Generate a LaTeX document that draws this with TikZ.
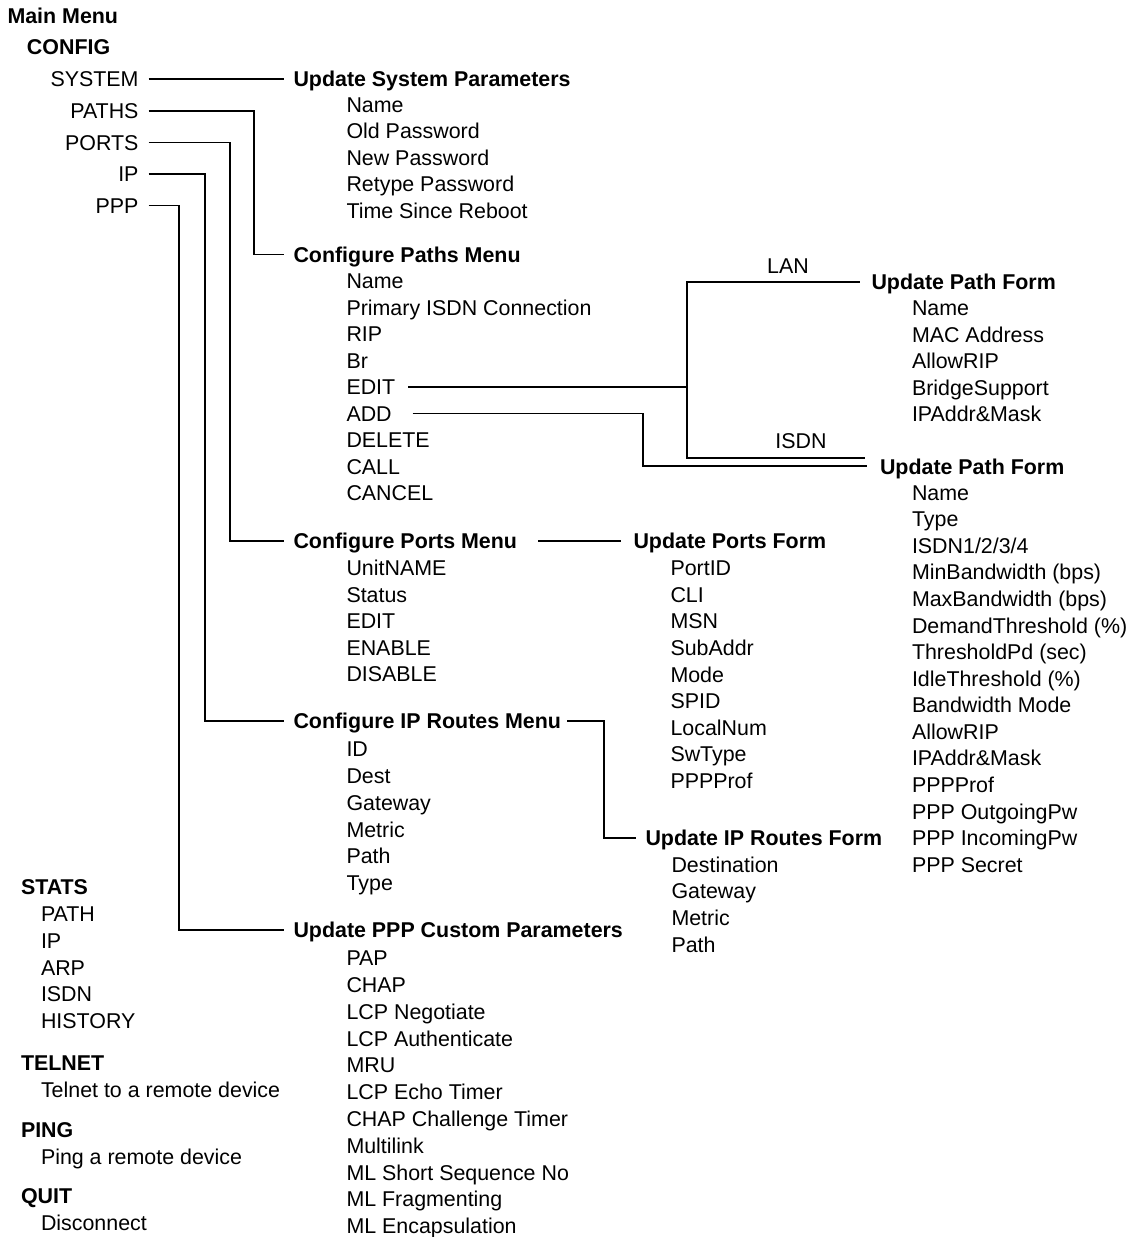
\documentclass[tikz,border=0pt]{standalone}
\usepackage{fontspec}
\setmainfont{Liberation Sans}
\begin{document}
\begin{tikzpicture}[x=1pt,y=-1pt,
  txt/.style={inner sep=0pt, outer sep=0pt, text height=15.3pt, text depth=0pt,
    font=\fontsize{21.4}{25}\selectfont, anchor=west},
  hd/.style={txt, font=\fontsize{21.4}{25}\selectfont\bfseries},
  itemr/.style={txt, anchor=east},
  lbl/.style={txt, anchor=center},
  wire/.style={line width=1.3pt, line join=miter}]
\useasboundingbox (0,0) rectangle (1135,1237);

% left column
\node[hd] (mainmenu) at (7.5,16) {Main Menu};
\node[hd] (config) at (27,47) {CONFIG};
\node[itemr] (system) at (138.5,79) {SYSTEM};
\node[itemr] (paths) at (138.5,111) {PATHS};
\node[itemr] (ports) at (138.5,142.5) {PORTS};
\node[itemr] (ip) at (138.5,174) {IP};
\node[itemr] (ppp) at (138.5,205.5) {PPP};

\node[hd] (stats) at (21,887) {STATS};
\foreach \t [count=\i from 0] in {PATH,IP,ARP,ISDN,HISTORY}
  \node[txt] (stats-\i) at (41,914+\i*26.7) {\t};
\node[hd] (telnet) at (21,1063) {TELNET};
\node[txt] (telnet-0) at (41,1089.5) {Telnet to a remote device};
\node[hd] (ping) at (21,1130) {PING};
\node[txt] (ping-0) at (41,1157) {Ping a remote device};
\node[hd] (quit) at (21,1196) {QUIT};
\node[txt] (quit-0) at (41,1222.5) {Disconnect};

% Update System Parameters
\node[hd] (usp) at (293.5,79) {Update System Parameters};
\foreach \t [count=\i from 0] in {Name,Old Password,New Password,Retype Password,Time Since Reboot}
  \node[txt] (usp-\i) at (346.5,104.5+\i*26.5) {\t};

% Configure Paths Menu
\node[hd] (cpm) at (293.5,254.5) {Configure Paths Menu};
\foreach \t [count=\i from 0] in {Name,Primary ISDN Connection,RIP,Br,EDIT,ADD,DELETE,CALL,CANCEL}
  \node[txt] (cpm-\i) at (346.5,281+\i*26.5) {\t};

% Update Path Form (LAN)
\node[hd] (upf1) at (871.5,282) {Update Path Form};
\foreach \t [count=\i from 0] in {Name,MAC Address,AllowRIP,BridgeSupport,IPAddr\&Mask}
  \node[txt] (upf1-\i) at (912,308+\i*26.5) {\t};

% Update Path Form (ISDN)
\node[hd] (upf2) at (880,467) {Update Path Form};
\foreach \t [count=\i from 0] in {Name,Type,ISDN1/2/3/4,{MinBandwidth (bps)},{MaxBandwidth (bps)},
    {DemandThreshold (\%)},{ThresholdPd (sec)},{IdleThreshold (\%)},Bandwidth Mode,AllowRIP,
    IPAddr\&Mask,PPPProf,PPP OutgoingPw,PPP IncomingPw,PPP Secret}
  \node[txt] (upf2-\i) at (912,492.5+\i*26.57) {\t};

\node[lbl] (lan) at (788,266) {LAN};
\node[lbl] (isdn) at (801,441) {ISDN};

% Configure Ports Menu
\node[hd] (cportm) at (293.5,541) {Configure Ports Menu};
\foreach \t [count=\i from 0] in {UnitNAME,Status,EDIT,ENABLE,DISABLE}
  \node[txt] (cportm-\i) at (346.5,568+\i*26.5) {\t};

% Update Ports Form
\node[hd] (uportf) at (633.5,541) {Update Ports Form};
\foreach \t [count=\i from 0] in {PortID,CLI,MSN,SubAddr,Mode,SPID,LocalNum,SwType,PPPProf}
  \node[txt] (uportf-\i) at (670.5,568+\i*26.6) {\t};

% Configure IP Routes Menu
\node[hd] (cipm) at (293.5,721) {Configure IP Routes Menu};
\foreach \t [count=\i from 0] in {ID,Dest,Gateway,Metric,Path,Type}
  \node[txt] (cipm-\i) at (346.5,749+\i*26.8) {\t};

% Update IP Routes Form
\node[hd] (uipf) at (645.5,838) {Update IP Routes Form};
\foreach \t [count=\i from 0] in {Destination,Gateway,Metric,Path}
  \node[txt] (uipf-\i) at (671.5,864.5+\i*26.67) {\t};

% Update PPP Custom Parameters
\node[hd] (uppp) at (293.5,930) {Update PPP Custom Parameters};
\foreach \t [count=\i from 0] in {PAP,CHAP,LCP Negotiate,LCP Authenticate,MRU,LCP Echo Timer,
    CHAP Challenge Timer,Multilink,ML Short Sequence No,ML Fragmenting,ML Encapsulation}
  \node[txt] (uppp-\i) at (346.5,958+\i*26.8) {\t};

% junction coordinates
\coordinate (edj) at (687,0);
\coordinate (addj) at (643,0);

% connectors
\draw[wire] ([xshift=10pt]system.east) -- ([xshift=-10pt]system.east -| usp.west);
\draw[wire] ([xshift=10pt]paths.east) -| ([xshift=-39.5pt]cpm.west) -- ([xshift=-10pt]cpm.west);
\draw[wire] ([xshift=10pt]ports.east) -| ([xshift=-63.5pt]cportm.west) -- ([xshift=-10pt]cportm.west);
\draw[wire] ([xshift=10pt]ip.east) -| ([xshift=-88.5pt]cipm.west) -- ([xshift=-10pt]cipm.west);
\draw[wire] ([xshift=10pt]ppp.east) -| ([xshift=-114.5pt]uppp.west) -- ([xshift=-10pt]uppp.west);

\draw[wire] ([xshift=13pt]cpm-4.east) -- (cpm-4.east -| edj);
\draw[wire] ([xshift=-12pt]upf1.west) -| ([yshift=9pt]upf2.west -| edj) -- ([xshift=-15pt,yshift=9pt]upf2.west);
\draw[wire] ([xshift=21pt]cpm-5.east) -| ([yshift=1pt]upf2.west -| addj) -- ([xshift=-13pt,yshift=1pt]upf2.west);

\draw[wire] ([xshift=21pt]cportm.east) -- ([xshift=-13pt]uportf.west);
\draw[wire] ([xshift=6pt]cipm.east) -| ([xshift=-41.5pt]uipf.west) -- ([xshift=-10pt]uipf.west);
\end{tikzpicture}
\end{document}
